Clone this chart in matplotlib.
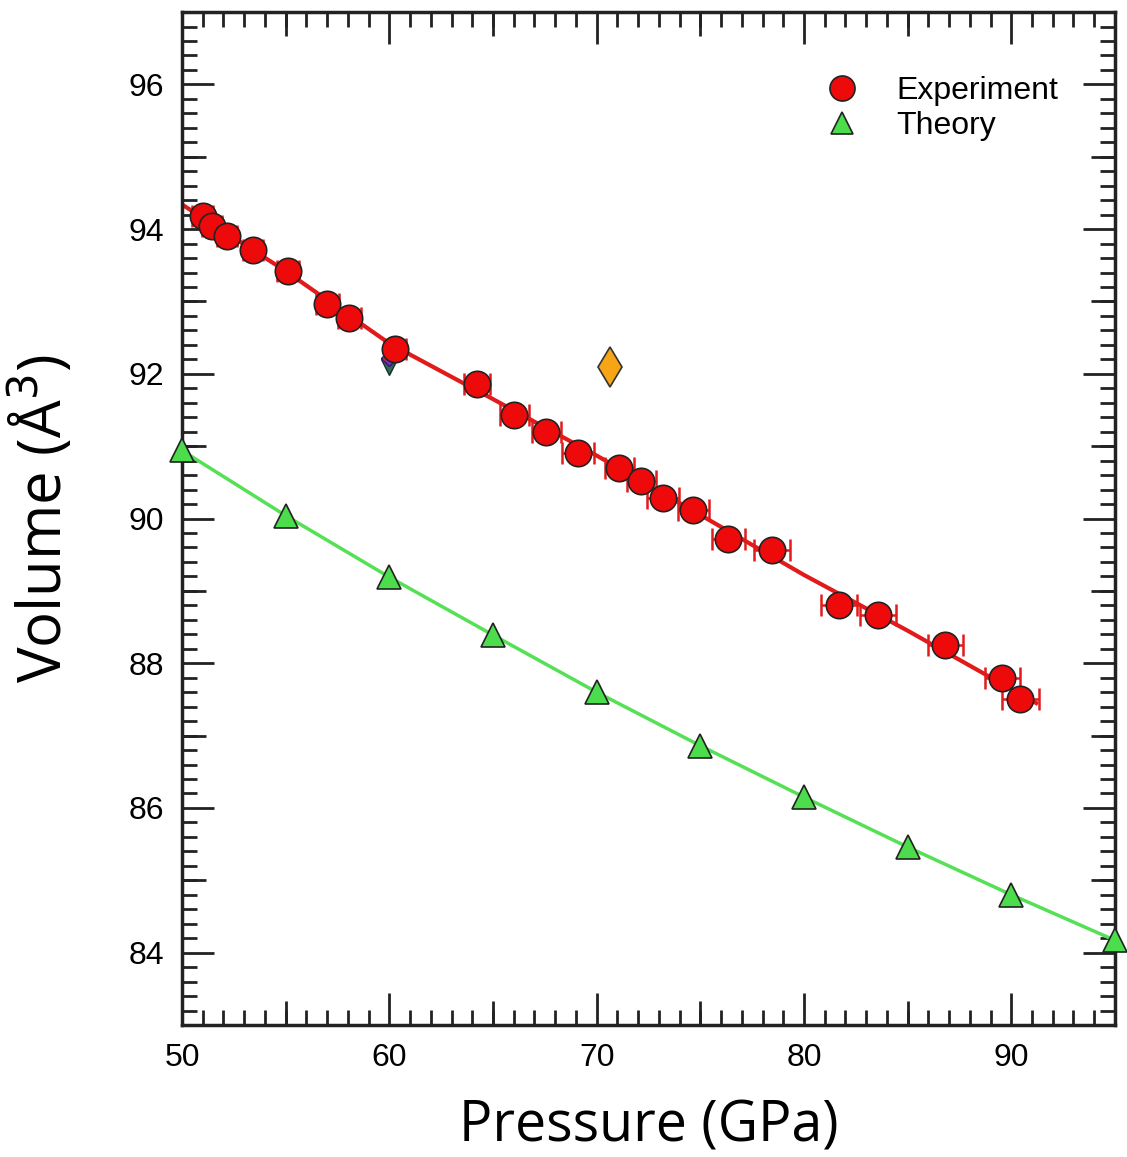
import numpy as np
import matplotlib
matplotlib.use("Agg")
import matplotlib.pyplot as plt
from matplotlib.ticker import MultipleLocator, FixedLocator, NullFormatter

# experiment (pressure GPa, volume A^3, pressure error)
exp_p = [51.0, 51.45, 52.17, 53.43, 55.11, 57.0, 58.06, 60.27, 64.23, 66.02, 67.56,
         69.1, 71.08, 72.14, 73.2, 74.65, 76.34, 78.46, 81.69, 83.57, 86.81, 89.56, 90.43]
exp_v = [94.18, 94.04, 93.90, 93.71, 93.42, 92.97, 92.77, 92.34, 91.86, 91.43, 91.19,
         90.91, 90.70, 90.52, 90.28, 90.12, 89.72, 89.56, 88.80, 88.66, 88.25, 87.79, 87.50]
exp_perr = [0.5, 0.5, 0.5, 0.5, 0.55, 0.55, 0.55, 0.55, 0.65, 0.7, 0.7,
            0.75, 0.7, 0.7, 0.75, 0.75, 0.8, 0.85, 0.85, 0.85, 0.85, 0.85, 0.9]

# fit through experiment
fit_p = [50, 55, 60, 65, 70, 75, 80, 85, 91.2]
fit_v = [94.34, 93.42, 92.42, 91.65, 90.87, 90.05, 89.22, 88.45, 87.45]

# theory
th_p = [50, 55, 60, 65, 70, 75, 80, 85, 90, 95]
th_v = [90.94, 90.04, 89.19, 88.39, 87.60, 86.86, 86.15, 85.46, 84.80, 84.17]

# extra single points
dia_p, dia_v = [70.65], [92.10]
vtri_p, vtri_v = [60.0], [92.10]
pdia_p, pdia_v = [60.0], [92.22]

fig = plt.figure(figsize=(11.27, 11.57), dpi=100)
ax = fig.add_axes([0.1615, 0.1141, 0.8278, 0.8755])

ax.plot(th_p, th_v, color="#55e055", lw=2.5, zorder=2)
ax.plot(th_p, th_v, ls="none", marker="^", ms=17, mfc="#4cdd4c", mec="#222222",
        mew=1.2, zorder=4, label="Theory", clip_on=False)

ax.plot(fit_p, fit_v, color="#e11b1b", lw=3, zorder=2)
ax.plot(vtri_p, vtri_v, ls="none", marker="v", ms=11, mfc="#2d6a5a", mec="#113322", zorder=3)
ax.plot(pdia_p, pdia_v, ls="none", marker="D", ms=8, mfc="#7a2fd0", mec="#3a1070", zorder=3)
ax.plot(dia_p, dia_v, ls="none", marker="d", ms=20, mfc="#f5a516", mec="#333333",
        mew=1.2, zorder=3)
ax.errorbar(exp_p, exp_v, xerr=exp_perr, fmt="none", ecolor="#e11b1b", elinewidth=1.8,
            capsize=8, capthick=1.8, zorder=3)
ax.plot(exp_p, exp_v, ls="none", marker="o", ms=19, mfc="#ee0a0a", mec="#222222",
        mew=1.2, zorder=5, label="Experiment")

ax.set_xlim(50, 95)
ax.set_ylim(83, 97)

ax.xaxis.set_major_locator(MultipleLocator(10))
ax.xaxis.set_minor_locator(MultipleLocator(1))
ax.yaxis.set_major_locator(MultipleLocator(2))
ax.yaxis.set_minor_locator(MultipleLocator(0.2))
ax.tick_params(which="both", direction="in", top=True, right=True, width=2, color="#222222")
ax.tick_params(which="major", length=23, labelsize=23, pad=13)
ax.tick_params(which="minor", length=11)
for lab in ax.get_xticklabels() + ax.get_yticklabels():
    lab.set_fontfamily("Liberation Sans")
for s in ax.spines.values():
    s.set_linewidth(2.5)
    s.set_color("#222222")

# medium ticks at 5 GPa and 1 A^3
for side in ["bottom", "top"]:
    sx = ax.secondary_xaxis(side)
    sx.xaxis.set_major_locator(FixedLocator([55, 65, 75, 85, 95]))
    sx.xaxis.set_major_formatter(NullFormatter())
    sx.tick_params(direction="in", length=17, width=2, color="#222222")
    sx.spines[side].set_visible(False)
for side in ["left", "right"]:
    sy = ax.secondary_yaxis(side)
    sy.yaxis.set_major_locator(FixedLocator([83, 85, 87, 89, 91, 93, 95, 97]))
    sy.yaxis.set_major_formatter(NullFormatter())
    sy.tick_params(direction="in", length=17, width=2, color="#222222")
    sy.spines[side].set_visible(False)

ax.set_xlabel("Pressure (GPa)", fontsize=40, family="Open Sans", labelpad=18)
ax.set_ylabel("Volume (Å$^3$)", fontsize=43, family="Open Sans", labelpad=38)

h, l = ax.get_legend_handles_labels()
ax.legend(h[::-1], l[::-1], loc="upper right", bbox_to_anchor=(0.97, 0.965), frameon=False,
          prop={"family": "Liberation Sans", "size": 23}, handletextpad=0.7,
          labelspacing=0.15, markerscale=0.95)

fig.savefig("out.png", dpi=100)
